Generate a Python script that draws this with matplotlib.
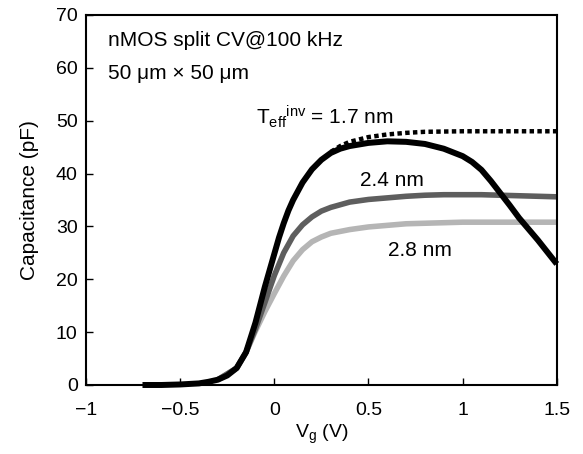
import numpy as np
import matplotlib
matplotlib.use("Agg")
import matplotlib.pyplot as plt

plt.rcParams['font.family'] = ['Liberation Sans', 'DejaVu Sans']
plt.rcParams['mathtext.fontset'] = 'custom'
plt.rcParams['mathtext.rm'] = 'Liberation Sans'
plt.rcParams['mathtext.it'] = 'Liberation Sans'

# Teff = 1.7 nm (measured)
vg_17 = [-0.70, -0.6, -0.5, -0.4, -0.35, -0.3, -0.25, -0.2, -0.15, -0.1, -0.05, 0.0,
         0.025, 0.05, 0.075, 0.1, 0.15, 0.2, 0.25, 0.3, 0.35, 0.4, 0.5, 0.6, 0.7, 0.8,
         0.9, 1.0, 1.05, 1.1, 1.15, 1.2, 1.25, 1.3, 1.4, 1.5]
c_17 = [0.0, 0.0, 0.1, 0.3, 0.6, 1.0, 1.8, 3.2, 6.2, 11.8, 18.6, 24.8,
        27.9, 30.6, 33.0, 35.0, 38.3, 40.8, 42.6, 43.9, 44.7, 45.2, 45.8, 46.1, 46.0, 45.6,
        44.7, 43.3, 42.2, 40.7, 38.6, 36.3, 34.0, 31.6, 27.4, 22.9]
# Teff = 1.7 nm (dotted)
vg_17d = [0.3, 0.35, 0.4, 0.5, 0.6, 0.7, 0.8, 1.0, 1.2, 1.5]
c_17d = [44.1, 45.2, 46.0, 46.9, 47.4, 47.7, 47.9, 48.0, 48.0, 48.0]
# Teff = 2.4 nm
vg_24 = [-0.3, -0.2, -0.15, -0.1, -0.05, 0.0, 0.05, 0.1, 0.15, 0.2, 0.25, 0.3, 0.4, 0.5,
         0.6, 0.7, 0.8, 0.9, 1.0, 1.1, 1.2, 1.3, 1.4, 1.5]
c_24 = [1.0, 3.2, 6.2, 10.6, 15.6, 20.7, 25.0, 28.2, 30.3, 31.8, 32.9, 33.6, 34.6, 35.1,
        35.4, 35.7, 35.9, 36.0, 36.0, 36.0, 35.9, 35.8, 35.7, 35.6]
# Teff = 2.8 nm
vg_28 = [-0.3, -0.2, -0.15, -0.1, -0.05, 0.0, 0.05, 0.1, 0.15, 0.2, 0.25, 0.3, 0.4, 0.5,
         0.6, 0.7, 0.8, 1.0, 1.2, 1.5]
c_28 = [1.0, 3.2, 6.2, 10.2, 13.9, 17.3, 20.6, 23.5, 25.6, 27.1, 28.0, 28.7, 29.4, 29.9,
        30.2, 30.5, 30.6, 30.8, 30.8, 30.8]

fig = plt.figure(figsize=(5.83, 4.54), dpi=100)
ax = fig.add_axes([0.1475, 0.152, 0.8075, 0.815])

ax.plot(vg_28, c_28, color='#b5b5b5', lw=4.0, solid_capstyle='butt')
ax.plot(vg_24, c_24, color='#5e5e5e', lw=4.0, solid_capstyle='butt')
ax.plot(vg_17, c_17, color='black', lw=4.3, solid_capstyle='butt', clip_on=False)
ax.plot(vg_17d, c_17d, color='black', lw=3.2, linestyle=(0, (1, 0.75)),
        dash_capstyle='butt')

ax.set_xlim(-1, 1.5)
ax.set_ylim(0, 70)
ax.set_xticks([-1, -0.5, 0, 0.5, 1, 1.5])
ax.set_xticklabels(['\u22121', '\u22120.5', '0', '0.5', '1', '1.5'])
ax.set_yticks(np.arange(0, 71, 10))
ax.tick_params(direction='in', length=5, width=1, labelsize=14)
ax.tick_params(axis='x', pad=12)
ax.tick_params(axis='y', pad=6)
for s in ax.spines.values():
    s.set_linewidth(1.5)

ax.set_xlabel(r'V$_\mathregular{g}$ (V)', fontsize=14, labelpad=3)
ax.set_ylabel('Capacitance (pF)', fontsize=15, labelpad=12)

ax.text(-0.883, 65.2, 'nMOS split CV@100 kHz', fontsize=15, va='center')
ax.text(-0.883, 59.0, '50 \u03bcm \u00d7 50 \u03bcm', fontsize=15, va='center')
ax.text(-0.098, 50.8, r'T$_\mathregular{eff}{}^\mathregular{inv}$ = 1.7 nm', fontsize=15, va='center')
ax.text(0.454, 38.6, '2.4 nm', fontsize=15, va='center')
ax.text(0.603, 25.5, '2.8 nm', fontsize=15, va='center')

fig.savefig('out.png', dpi=100)
